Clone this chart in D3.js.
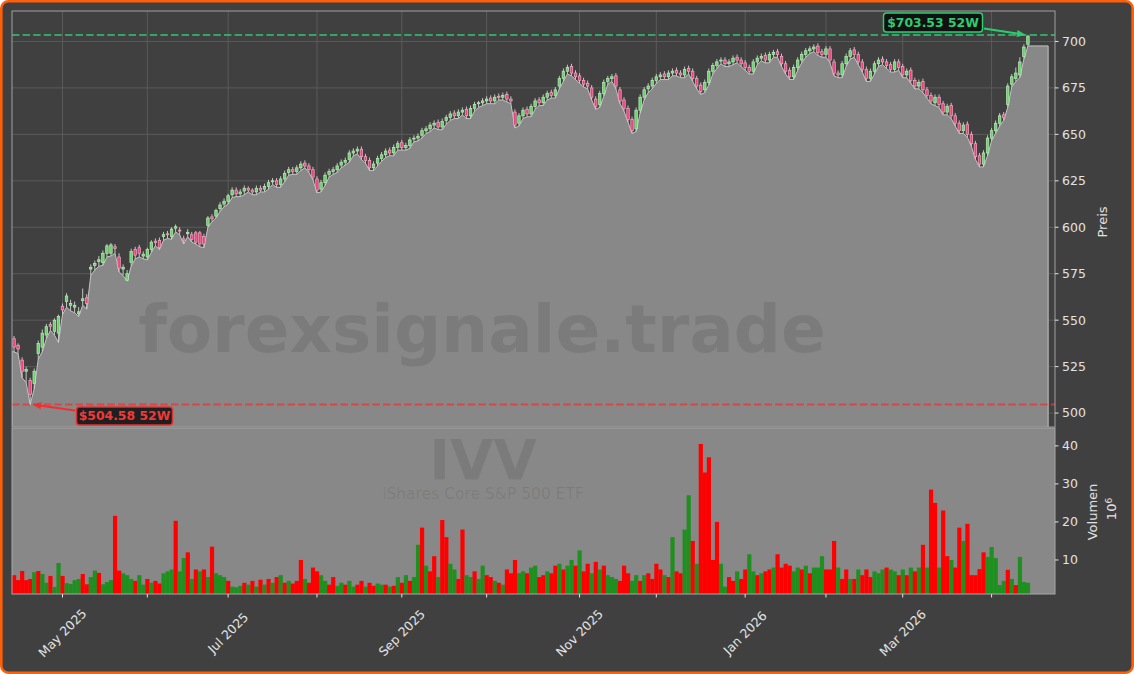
<!DOCTYPE html>
<html><head><meta charset="utf-8">
<script src="https://cdn.jsdelivr.net/npm/d3@7"></script>
<style>html,body{margin:0;padding:0;background:#fff}svg{display:block}</style>
</head><body>
<svg id="c" width="1134" height="674"></svg>
<script>
// ---------------- DATA ----------------
const opens = [
540,536.5,528.5,522.5,517.5,516,532,535.5,542,547.6,544,543,557.5,560,558,557,553.5,560.5,562,577.5,
579.5,581.5,581,586,586,589.5,584,577.5,571.5,581,588,589,584.5,584,588,592.5,593,595,596.5,595,
599.5,598.5,593.8,596.5,596,597,597,595,601,605.6,606,610,
612.5,614,617.5,620,618,619.5,621,620,
619,621,620.5,622,624.5,625,623,626,629.5,631,
630,632,634.5,633,631,626,620.5,624,628.5,630,
631,633.5,635,636.5,640,641,642,638,636,632,
634.5,637,639,641.5,640,643,645.5,643,644,647.5,
648,649.5,652,653,655,656.5,654,657.5,659,661.5,
660,662,663.5,660,664,666.5,667,668,669.5,668,
670.5,670,671.5,669,662,656,660,663.5,661,665,
668.5,667,670,672.5,671,676,680,684,686.5,683,
681.5,679,677.5,675,669,666,672,678.5,680,681.5,
674,668.5,664,658,653,663,670,674.5,676,679,
681,682.5,681,683,684.5,683,682,685.5,684,680,
676.5,674,678,684,687,689.5,690,688,689,691.5,
690,688.5,686,684,689,691,692.5,690,693,694.5,
692,688,684.5,681,686,690,693,695,696,697.5,
694.5,693,696,689,683,682,688,692,695.5,693,
689,685,680,684,688,690.5,689,687.5,685,689,
686.5,682,684.5,679,676,678.5,674,671,667,670,
666.5,662,665.5,660,656,652,655.5,650,645,638.5,
634,640,648,652,656,660.5,666,677,680,682,692,698.5];
const highs = [
541.5,537.5,530,525,519,524,539,545,548,549,551,553,559,564.5,561,560,557,567,564,580,
582,584.5,587.5,591,591.5,591,586,580,577,588.5,589.5,590.5,587,589,593,594,594.5,597.5,598,600,
601.5,600,595.5,599,597.5,598,598,596.5,606,607,610,613.5,
615.5,618,621.5,621.5,620.5,622.5,622,621,
622.5,622.5,623.5,625.5,626.5,626.5,627.5,630.5,632.5,632.5,
633.5,635.5,636,634.5,632.5,627.5,625.5,629.5,631.5,632.5,
634.5,636.5,637.5,641.5,642.5,643.5,643.5,639.5,637.5,635.5,
638.5,640.5,642.5,643,644.5,646.5,647,645.5,648.5,649.5,
650.5,653.5,654.5,656.5,657.5,658,658.5,660.5,662.5,663,
663.5,664.5,665,665.5,667.5,668,669.5,670.5,671,671.5,
672,672.5,673,670.5,663.5,661.5,664.5,665,666.5,669.5,
670,671.5,673.5,674,675.5,681.5,685.5,687.5,688,684.5,
683,680.5,679,676.5,670.5,673.5,679.5,681.5,682.5,683,
675.5,670,665.5,659.5,664.5,671.5,675.5,677.5,680.5,682.5,
683.5,684,684.5,685.5,686,684.5,686.5,687,685.5,681.5,
678,679.5,685.5,688.5,690.5,691.5,691.5,690.5,692.5,693,
691.5,690,687.5,690.5,692.5,693.5,694,694.5,695.5,696,
693.5,689.5,686,687.5,691.5,694.5,696.5,697.5,698.5,699,
696,697.5,697.5,690.5,684.5,689.5,693.5,696.5,697,694.5,
690.5,686.5,685.5,689.5,691.5,692,690.5,689,690.5,690.5,
688,685.5,686,680.5,679.5,680,675.5,672.5,671.5,671.5,
668,666.5,667,661.5,657.5,656.5,657,651.5,646.5,640,
641.5,649.5,653.5,657.5,661.5,662,677.5,682.5,686,691.5,698.5,703.53];
const lows = [
533,532,519,516.5,504.58,513,529,533,540,544.5,542,538,553,557,555,554,552,558,556,574,
577,579,579.5,584,584.5,586,576,574,571,579,583,584,583,582.5,586.5,590,588,593,594,593.5,
597.5,596,591,595,592,591,589.5,589,600,603,605,608.5,
611,612.5,616,616.5,616.5,617.5,619,617.5,
617.5,619,619,620.5,623,621.5,621.5,624.5,628,628.5,
628.5,630.5,632,629.5,625.5,618.5,619,622.5,627,628.5,
629.5,632,633.5,635,638.5,639.5,636.5,634.5,630.5,630.5,
633,635.5,637.5,638.5,638.5,641.5,641.5,641.5,642.5,646,
646.5,648,650.5,651.5,653.5,652.5,652.5,655.5,657.5,658.5,
658.5,660.5,658.5,658.5,662.5,664.5,665.5,666.5,666.5,666.5,
668.5,668.5,667.5,666.5,653.5,654.5,658.5,659.5,659.5,663.5,
665.5,665.5,668.5,669.5,669.5,674.5,678.5,682.5,681.5,679.5,
677.5,675.5,674.5,668.5,663.5,664.5,670.5,677,678.5,674.5,
666.5,662.5,656.5,650.5,651.5,661.5,668.5,672.5,674.5,677.5,
679.5,679.5,679.5,681.5,681.5,680.5,680.5,682.5,678.5,674.5,
671.5,672.5,676.5,682.5,685.5,688,686.5,686.5,687.5,688.5,
686.5,684.5,682.5,682.5,687.5,689.5,688.5,688.5,691.5,691.5,
686.5,682.5,679.5,679.5,684.5,688.5,691.5,693.5,694.5,692.5,
691.5,691.5,688.5,681.5,680.5,680.5,686.5,690.5,691.5,687.5,
683.5,678.5,678.5,682.5,686.5,687.5,685.5,683.5,683.5,684.5,
680.5,680.5,677.5,674.5,674.5,672.5,669.5,666.5,665.5,664.5,
660.5,660.5,658.5,654.5,650.5,650.5,648.5,643.5,636.5,632.5,
632.5,638.5,646.5,650.5,654.5,657.5,664.5,675.5,678.5,680.5,690.5,697.6];
const closes = [
535.5,534.5,522.5,523.5,510,522.5,537.5,543,546.5,546.6,550,552,555.5,563,559,558,554.5,561.5,559,578.5,
580.5,582.5,586,590,590.5,588.5,578,578.5,575,587,585,586,585.5,588,592,591.8,589,596,596,599,
600.3,598,593,597.3,593.5,592,591,591,605,604.6,609,612,
614,617,620,618,619,621,620,619,
621,620,622,624,625,623,626,629,631,630,
632,634,633,631,627,620,624,628,630,631,
633,635,636,640,641,642,638,636,632,634,
637,639,641,640,643,645,643,644,647,648,
649,652,653,655,656,654,657,659,661,660,
662,663,660,664,666,667,668,669,668,670,
670,671,669,668,655,660,663,661,665,668,
667,670,672,671,674,680,684,686,683,681,
679,677,676,670,665,672,678,680,681,676,
668,664,658,652,663,670,674,676,679,681,
682,681,683,684,683,682,685,684,680,676,
673,678,684,687,689,690,688,689,691,690,
688,686,684,689,691,692,690,693,694,693,
688,684,681,686,690,693,695,696,697,694,
693,696,690,683,682,688,692,695,693,689,
685,680,684,688,690,689,687,685,689,686,
682,684,679,676,678,674,671,668,670,666,
662,665,660,656,652,655,650,645,638,634,
640,648,652,656,660,659,676,681,683,689,697,702.8];
const volumes = [
6.0,4.7,7.1,4.7,5.0,6.8,7.1,6.3,4.0,5.8,2.9,9.2,5.8,3.9,3.7,4.7,5.0,6.3,3.6,5.5,7.2,6.6,3.6,4.2,4.7,21.6,7.2,
6.5,6.0,5.0,4.5,6.0,3.5,5.0,4.0,4.5,3.8,6.5,7.0,7.5,20.3,7.0,10.5,12.0,5.0,7.5,7.0,7.5,5.5,13.5,6.5,6.0,
5.5,4.5,3.0,2.8,3.2,4.0,3.5,4.5,3.0,4.8,3.5,5.0,4.0,5.5,6.0,4.0,4.5,3.8,4.5,10.0,5.0,4.0,8.0,7.0,6.0,4.5,3.5,5.5,3.2,4.0,3.5,4.5,3.0,3.5,4.5,3.0,4.0,3.2,3.8,3.5,3.5,3.0,3.2,5.5,4.0,6.0,4.5,5.5,
14.0,18.5,8.5,7.0,11.0,5.5,20.5,16.0,9.0,7.5,5.0,18.0,6.0,5.5,7.0,5.0,8.5,6.0,5.5,4.5,4.0,3.5,7.5,6.5,10.0,6.5,7.0,6.5,8.0,8.5,5.5,6.0,7.0,6.5,8.5,9.0,7.5,8.5,10.0,8.5,
12.5,7.0,9.0,6.5,9.5,7.5,8.5,6.0,5.5,5.0,4.5,8.5,6.5,4.5,6.0,4.5,6.0,6.5,5.0,9.0,7.5,6.0,5.5,16.0,7.0,6.5,18.0,27.0,15.0,9.0,40.5,33.0,37.0,10.0,20.0,9.0,3.0,5.5,4.5,7.0,
5.0,7.5,11.5,7.0,6.0,6.5,7.0,7.5,8.0,11.5,8.0,9.0,8.5,7.0,8.0,7.5,8.5,6.5,8.0,8.0,11.0,7.5,7.5,15.0,8.0,5.0,7.5,5.0,5.0,7.5,6.0,7.5,5.5,7.0,6.5,7.5,8.0,7.5,7.0,6.0,
7.5,6.0,8.0,7.0,8.0,14.0,8.0,28.5,25.0,8.0,23.0,11.0,10.0,8.0,18.5,15.0,19.5,6.0,6.0,7.6,12.0,10.8,13.4,10.5,3.4,4.5,7.4,5.0,3.4,10.8,4.2,4.0];
// volume bar colour per day: G = green, R = red
const volumeColours = (
 "RRRRRGRGGRGGRGGGGRRGGRGGGRR" +
 "GGGRGGRGRRGGGRGGRGRGRGRGG" +
 "GRGGGRGRGRGRGRGRGRRRGRRRGGRRGGRGGRRGRRGGRGRGRGRG" +
 "GRGRRGRRGGRRGGRGGRRGRGRRRGGRGGRRGRRGRGGR" +
 "GRRGRGRGGGRRRGGRGRRRRGRGRRGGRGRRRRRGGRRG" +
 "RRGGRGRRGRRRRGGRGRGGGRRRGRRGRGRRRGGGRGGR" +
 "GRGRGRGRRGRRGRRGRRRRRGGGGGRGRGGG").split("");
const monthTickIndex = [12,33,53,75,96,117,140,159,181,201,220,242];
const monthTickLabels = ["May 2025","","Jul 2025","","Sep 2025","","Nov 2025","","Jan 2026","","Mar 2026",""];
const priceTicks = [500,525,550,575,600,625,650,675,700];
const volumeTicks = [10,20,30,40];
const high52 = 703.53, low52 = 504.58;
const high52Label = "$703.53 52W", low52Label = "$504.58 52W";
const watermark = "forexsignale.trade";
const tickerSymbol = "IVV", tickerName = "iShares Core S&P 500 ETF";
const priceLabel = "Preis", volumeLabel = "Volumen";

// ---------------- LAYOUT ----------------
const W = 1134, H = 674;
const L = 12, R = 1055, pTop = 11, pBot = 427, vTop = 428, vBot = 594;
const N = closes.length;
const x = d3.scaleLinear().domain([-0.5, 257.7]).range([L, R]);
const yP = d3.scaleLinear().domain([492.5, 716.4]).range([pBot, pTop]);
const yV = d3.scaleLinear().domain([1.05, 44.7]).range([vBot, vTop]);
const step = x(1) - x(0);
const FONT = "'DejaVu Sans', Verdana, sans-serif";

const svg = d3.select("#c");
const defs = svg.append("defs");
defs.append("clipPath").attr("id","cp").append("rect").attr("x",L).attr("y",pTop).attr("width",R-L).attr("height",pBot-pTop);
defs.append("clipPath").attr("id","cv").append("rect").attr("x",L).attr("y",vTop).attr("width",R-L).attr("height",vBot-vTop);

svg.append("rect").attr("x",1.3).attr("y",1.3).attr("width",W-2.6).attr("height",H-2.6).attr("rx",7)
  .attr("fill","#404040").attr("stroke","#ff5f0a").attr("stroke-width",2.6);

// ---- price panel ----
const gp = svg.append("g").attr("clip-path","url(#cp)");
gp.selectAll("line.hg").data(priceTicks).join("line")
  .attr("x1",L).attr("x2",R).attr("y1",d=>yP(d)).attr("y2",d=>yP(d))
  .attr("stroke","#5d5d5d").attr("stroke-width",0.9);
gp.selectAll("line.vg").data(monthTickIndex).join("line")
  .attr("x1",d=>x(d)).attr("x2",d=>x(d)).attr("y1",pTop).attr("y2",pBot)
  .attr("stroke","#5d5d5d").attr("stroke-width",0.9);

const areaPts = [{i:-0.5, v:lows[0]}].concat(lows.map((v,i)=>({i, v})), [{i:N-1+5, v:lows[N-1]}]);
const area = d3.area().x(d=>x(d.i)).y0(pBot+2).y1(d=>yP(d.v));
gp.append("path").attr("d", area(areaPts)).attr("fill","#888888")
  .attr("stroke","#c4c4c4").attr("stroke-width",1);

gp.append("text").attr("x",482).attr("y",352).attr("text-anchor","middle")
  .attr("font-family",FONT).attr("font-weight","bold").attr("font-size",66)
  .attr("fill","#000").attr("fill-opacity",0.09).text(watermark);

gp.append("line").attr("x1",L).attr("x2",R).attr("y1",yP(high52)).attr("y2",yP(high52))
  .attr("stroke","#2ecc71").attr("stroke-opacity",0.72).attr("stroke-width",2).attr("stroke-dasharray","7.4 3.2");
gp.append("line").attr("x1",L).attr("x2",R).attr("y1",yP(low52)).attr("y2",yP(low52))
  .attr("stroke","#f03030").attr("stroke-opacity",0.75).attr("stroke-width",2).attr("stroke-dasharray","7.4 3.2");

const cg = gp.append("g");
const idx = d3.range(N);
cg.selectAll("line.w").data(idx).join("line")
  .attr("x1",i=>x(i)).attr("x2",i=>x(i)).attr("y1",i=>yP(highs[i])).attr("y2",i=>yP(lows[i]))
  .attr("stroke","#d4d4d4").attr("stroke-width",0.9);
const bw = step*0.62;
cg.selectAll("rect.b").data(idx).join("rect")
  .attr("x",i=>x(i)-bw/2).attr("width",bw)
  .attr("y",i=>yP(Math.max(opens[i],closes[i])))
  .attr("height",i=>Math.max(1, Math.abs(yP(opens[i])-yP(closes[i]))))
  .attr("fill",i=>closes[i]>=opens[i] ? "#6fd06f" : "#e9457b")
  .attr("stroke",i=>closes[i]>=opens[i] ? "#b8eeb8" : "#f5a9c3")
  .attr("stroke-width",0.7);

svg.append("rect").attr("x",L).attr("y",pTop).attr("width",R-L).attr("height",pBot-pTop)
  .attr("fill","none").attr("stroke","#a0a0a0").attr("stroke-width",1);

// ---- volume panel ----
svg.append("rect").attr("x",L).attr("y",vTop).attr("width",R-L).attr("height",vBot-vTop)
  .attr("fill","#888888");
const gv = svg.append("g").attr("clip-path","url(#cv)");
gv.append("text").attr("x",483).attr("y",479).attr("text-anchor","middle")
  .attr("font-family",FONT).attr("font-weight","bold").attr("font-size",56)
  .attr("fill","#000").attr("fill-opacity",0.09).text(tickerSymbol);
gv.append("text").attr("x",483).attr("y",499).attr("text-anchor","middle")
  .attr("font-family",FONT).attr("font-size",15.5)
  .attr("fill","#000").attr("fill-opacity",0.09).text(tickerName);
gv.selectAll("rect.v").data(idx).join("rect")
  .attr("x",i=>x(i-0.5)).attr("width",step+0.15)
  .attr("y",i=>yV(volumes[i])).attr("height",i=>Math.max(0, vBot+2-yV(volumes[i])))
  .attr("fill",i=>(volumeColours[i] || (closes[i]>=opens[i]?"G":"R"))==="G" ? "#1f8f1f" : "#ff0000");
svg.append("rect").attr("x",L).attr("y",vTop).attr("width",R-L).attr("height",vBot-vTop)
  .attr("fill","none").attr("stroke","#a8a8a8").attr("stroke-width",1);

// ---- axes ----
const tickCol = "#e2e2e2";
const ya = svg.append("g");
priceTicks.forEach(t=>{
  ya.append("line").attr("x1",R).attr("x2",R+3.5).attr("y1",yP(t)).attr("y2",yP(t)).attr("stroke",tickCol);
  ya.append("text").attr("x",R+7).attr("y",yP(t)).attr("dy","0.35em").attr("font-family",FONT)
    .attr("font-size",12.5).attr("fill",tickCol).text(t);
});
volumeTicks.forEach(t=>{
  ya.append("line").attr("x1",R).attr("x2",R+3.5).attr("y1",yV(t)).attr("y2",yV(t)).attr("stroke",tickCol);
  ya.append("text").attr("x",R+7).attr("y",yV(t)).attr("dy","0.35em").attr("font-family",FONT)
    .attr("font-size",12.5).attr("fill",tickCol).text(t);
});
svg.append("text").attr("transform","translate(1107,222) rotate(-90)").attr("text-anchor","middle")
  .attr("font-family",FONT).attr("font-size",13).attr("fill",tickCol).text(priceLabel);
svg.append("text").attr("transform","translate(1097,512) rotate(-90)").attr("text-anchor","middle")
  .attr("font-family",FONT).attr("font-size",13).attr("fill",tickCol).text(volumeLabel);
const off = svg.append("text").attr("transform","translate(1116,509) rotate(-90)").attr("text-anchor","middle")
  .attr("font-family",FONT).attr("font-size",13).attr("fill",tickCol);
off.append("tspan").text("10");
off.append("tspan").attr("dy","-0.45em").attr("font-size",9).text("6");

const xa = svg.append("g");
monthTickIndex.forEach((t,k)=>{
  xa.append("line").attr("x1",x(t)).attr("x2",x(t)).attr("y1",vBot).attr("y2",vBot+3.5).attr("stroke",tickCol);
  if (monthTickLabels[k]) {
    xa.append("text").attr("transform",`translate(${x(t)},${633}) rotate(-45)`)
      .attr("text-anchor","middle").attr("dy","0.35em").attr("font-family",FONT)
      .attr("font-size",12.5).attr("fill",tickCol).text(monthTickLabels[k]);
  }
});

// ---- annotations ----
function arrow(g, x1, y1, x2, y2, col){
  const dx=x2-x1, dy=y2-y1, len=Math.hypot(dx,dy), ux=dx/len, uy=dy/len;
  const hl=9, hw=3.6, bx=x2-ux*hl, by=y2-uy*hl;
  g.append("line").attr("x1",x1).attr("y1",y1).attr("x2",bx).attr("y2",by).attr("stroke",col).attr("stroke-width",2);
  g.append("path").attr("d",`M${x2},${y2}L${bx-uy*hw},${by+ux*hw}L${bx+uy*hw},${by-ux*hw}Z`).attr("fill",col);
}
const ann = svg.append("g");
const hx = x(N-1);
arrow(ann, 984, 28.5, hx-2, yP(high52), "#2ecc71");
ann.append("rect").attr("x",883.5).attr("y",13).attr("width",99).attr("height",19).attr("rx",3)
  .attr("fill","#0c0c0c").attr("fill-opacity",0.9).attr("stroke","#2ecc71").attr("stroke-width",1.5);
ann.append("text").attr("x",933).attr("y",22.5).attr("dy","0.36em").attr("text-anchor","middle")
  .attr("font-family",FONT).attr("font-weight","bold").attr("font-size",12.4).attr("fill","#2ecc71").text(high52Label);
const lx = x(4);
arrow(ann, 75, 410.5, lx+2, yP(low52), "#f03030");
ann.append("rect").attr("x",76.5).attr("y",407).attr("width",96).attr("height",18).attr("rx",3)
  .attr("fill","#141414").attr("fill-opacity",0.9).attr("stroke","#e53030").attr("stroke-width",1.5);
ann.append("text").attr("x",124.5).attr("y",416).attr("dy","0.36em").attr("text-anchor","middle")
  .attr("font-family",FONT).attr("font-weight","bold").attr("font-size",12.4).attr("fill","#f03a3a").text(low52Label);
</script>
</body></html>
